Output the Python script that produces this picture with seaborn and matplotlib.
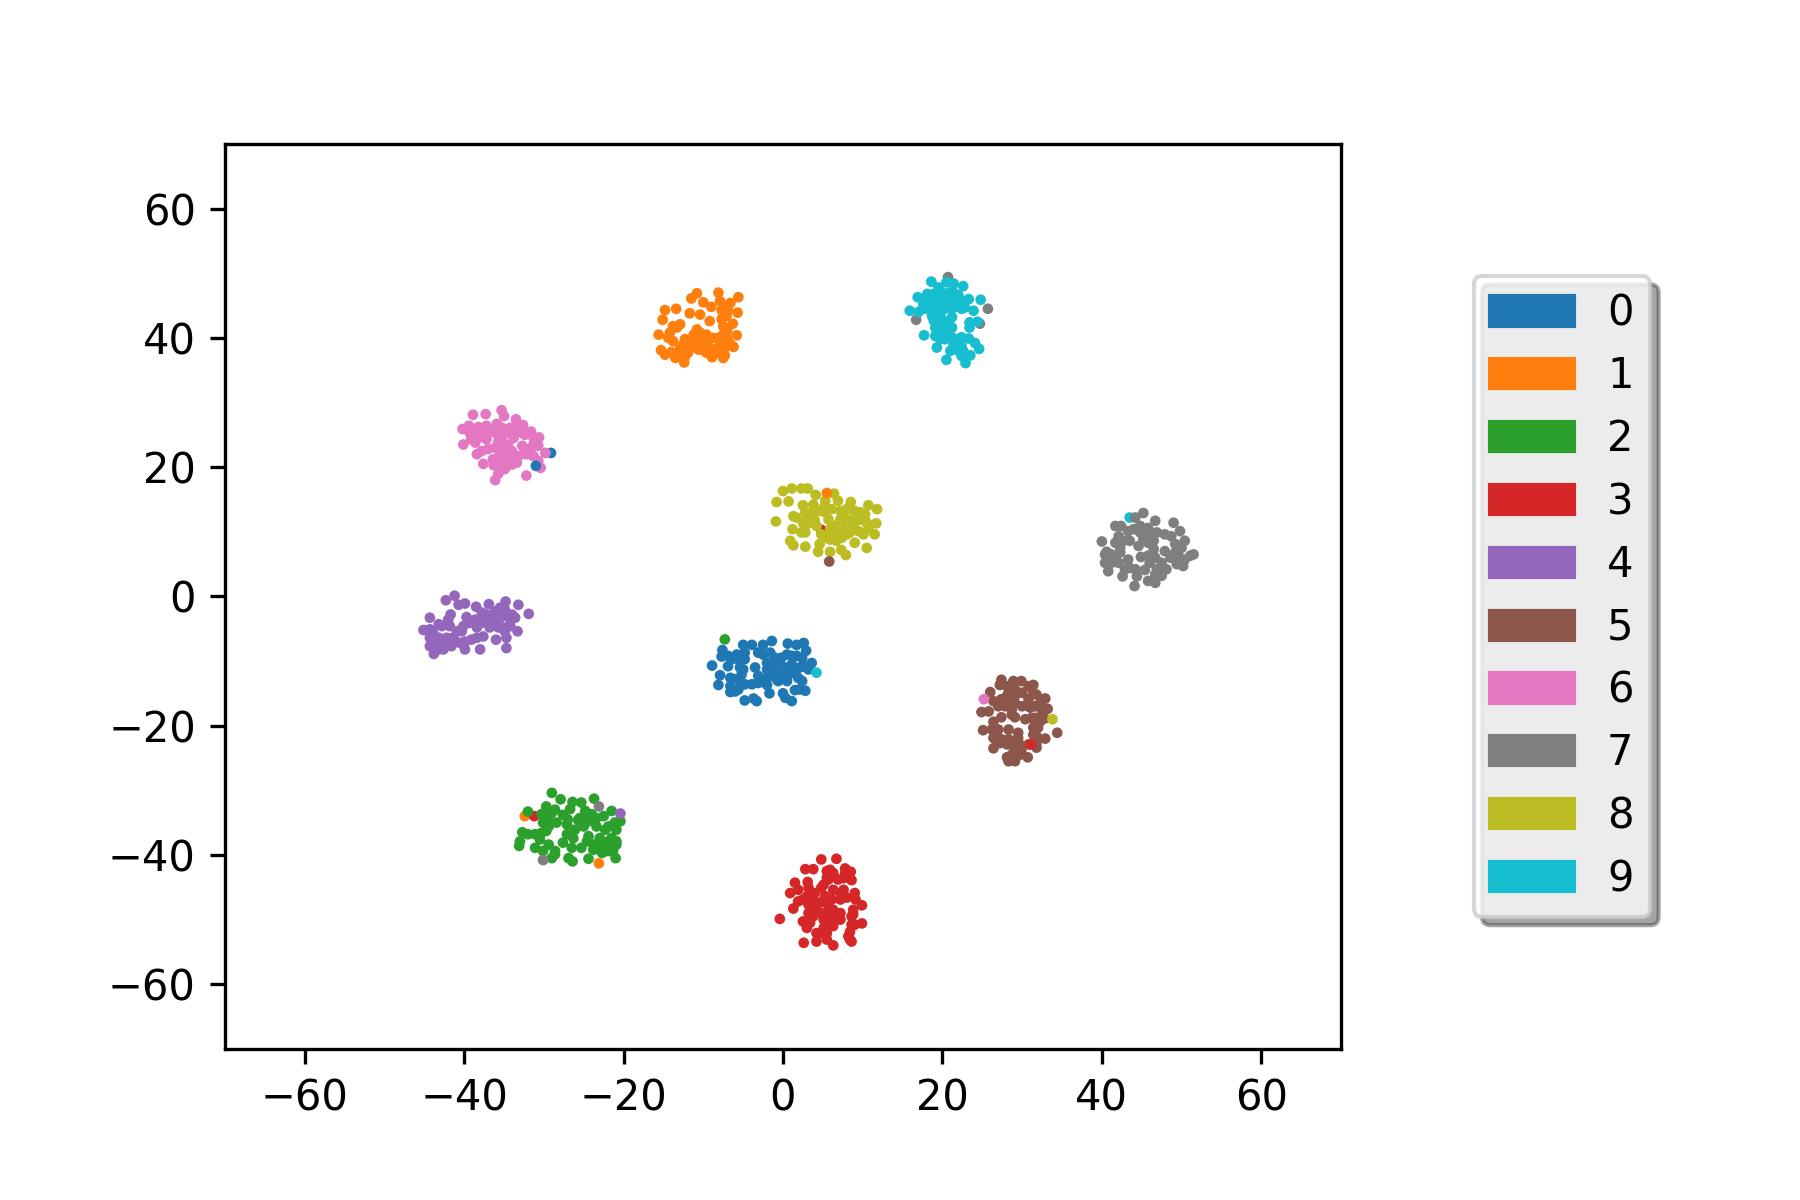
import numpy as np
import pandas as pd
import matplotlib
matplotlib.use("Agg")
import matplotlib.pyplot as plt
from matplotlib.patches import Patch
import seaborn as sns

labels = [str(i) for i in range(10)]
ticks = [-60, -40, -20, 0, 20, 40, 60]

# cluster of each digit
x0 = [-7.6,-5.0,-3.9,-2.5,-1.4,0.6,1.7,2.6,2.9,-8.9,-7.7,-6.4,-5.4,-3.1,-1.6,0.5,1.7,3.6,-6.9,-5.0,-3.5,-2.0,-0.4,1.1,3.2,-7.9,-6.6,-5.2,-3.1,-1.4,0.0,2.1,-8.1,-6.6,-5.6,-3.9,-2.0,0.5,2.4,-6.6,-1.7,1.5,2.8,0.0,0.3,1.1,-4.8,-3.3,-3.7,-0.6,
      -6.9,-5.8,-4.8,-4.8,-2.5,-1.0,-0.2,1.1,2.4,-2.0,-1.0,0.5,1.5,2.6,-0.4,0.7,1.9,-2.0,-5.4,-6.2,-4.8,-3.1,-6.0,2.1,-0.8,-5.4]
y0 = [-8.3,-7.5,-7.5,-7.5,-6.9,-7.3,-7.5,-7.2,-8.4,-10.7,-9.3,-9.7,-10.0,-8.7,-8.7,-9.0,-9.2,-10.3,-10.8,-11.3,-11.0,-10.3,-10.3,-10.5,-11.3,-12.2,-12.6,-12.1,-12.3,-11.6,-11.8,-11.0,-13.7,-13.9,-14.4,-13.6,-13.7,-13.1,-13.1,-14.8,-15.0,-14.5,-14.6,-15.0,-15.7,-16.2,-16.1,-16.2,-15.8,-13.1,
      -9.2,-9.0,-8.7,-9.7,-9.0,-9.5,-9.5,-9.2,-9.5,-11.3,-10.8,-11.0,-11.6,-10.8,-12.3,-12.1,-12.6,-12.6,-13.1,-12.8,-13.6,-13.4,-14.7,-14.4,-12.8,-11.0]

x1 = [-10.8,-11.5,-8.1,-5.6,-10.0,-7.9,-6.6,-14.8,-13.4,-9.0,-11.7,-10.4,-7.7,-5.7,-6.9,-15.1,-9.2,-6.3,-12.9,-13.8,-7.5,-15.6,-5.8,-10.4,-11.2,-14.4,-13.8,-12.3,-8.7,-7.5,-10.6,-7.9,-6.2,-15.3,-14.8,-12.5,-13.5,-11.7,-10.2,-8.9,-7.3,-12.3,-12.4,-8.5,-7.5,-11.0,-13.1,-9.6,
      -10.0,-9.4,-11.2,-11.9,-12.9,-14.0,-9.6,-8.1,-7.0,-7.3,-6.6,-8.1,-7.0,-7.7,-7.1,-7.3,-14.2,-13.3,-12.5,-11.7,-10.6,-8.9,-10.8,-9.6]
y1 = [46.9,46.1,47.0,46.3,45.5,45.7,45.4,44.3,44.5,44.8,43.8,43.6,44.3,43.9,44.2,42.8,42.6,42.2,42.1,41.8,41.8,40.5,40.4,40.8,40.5,40.0,39.5,39.8,40.0,40.5,39.5,39.0,38.6,38.1,37.4,38.2,36.9,38.5,38.2,37.0,37.3,37.1,36.2,38.2,36.9,39.0,37.7,39.0,
      40.0,39.5,39.8,37.7,38.5,37.8,37.7,40.0,39.8,38.5,39.0,37.7,41.1,42.9,43.4,44.9,40.8,41.6,39.0,39.5,38.2,38.2,41.3,40.5]

x2 = [-29.0,-27.9,-23.7,-26.4,-25.3,-32.0,-29.7,-28.6,-30.3,-26.7,-27.6,-24.8,-21.5,-24.0,-29.4,-28.4,-25.7,-24.4,-22.5,-20.4,-27.1,-26.1,-23.4,-22.3,-20.9,-32.7,-29.7,-31.1,-27.1,-24.4,-20.9,-33.0,-33.1,-30.5,-27.6,-24.6,-23.0,-21.9,-31.1,-26.5,-25.3,-23.8,-22.5,-20.9,-30.1,-28.6,-22.7,-21.3,-29.0,-26.9,-26.4,-24.4,-21.0,-22.1,
      -29.7,-29.4,-30.3,-32.0,-25.5,-24.6,-23.4,-25.0,-27.0,-26.3,-22.3,-21.5,-21.7,-23.8,-23.2,-29.4,-29.0,-21.1,-21.9,-30.1,-28.6]
y2 = [-30.4,-31.4,-31.3,-31.8,-31.9,-33.3,-32.5,-33.0,-33.7,-32.9,-33.8,-33.2,-33.2,-33.7,-34.8,-35.0,-34.6,-34.8,-34.0,-34.8,-35.3,-36.1,-35.6,-36.1,-36.1,-36.5,-36.3,-36.8,-36.8,-37.1,-37.9,-37.9,-38.6,-37.6,-38.1,-37.9,-37.4,-37.9,-38.9,-38.9,-38.9,-38.4,-38.9,-38.4,-39.4,-39.4,-39.7,-39.3,-40.5,-40.5,-41.0,-40.6,-40.5,-39.4,
      -33.7,-35.6,-36.6,-36.8,-34.3,-34.3,-34.3,-35.6,-34.5,-37.4,-38.6,-37.4,-39.4,-39.2,-38.9,-38.4,-33.5,-35.0,-35.6,-35.0,-39.9]

x3 = [4.8,6.7,2.8,3.8,7.8,8.5,5.5,6.3,8.6,1.5,3.1,5.7,7.6,0.9,1.9,3.2,5.1,7.6,9.0,6.3,9.1,1.3,1.9,3.6,5.3,7.2,9.9,8.8,-0.4,4.0,5.7,7.2,8.8,2.5,3.8,5.7,7.2,9.9,8.6,3.0,5.1,6.3,8.4,4.6,8.6,2.6,4.2,5.5,6.3,8.2,4.6,3.2,
      5.9,5.5,4.8,4.0,3.0,4.4,6.1,7.2,6.3,4.8,3.2,3.4,6.3,5.1,8.6,9.0,8.0,7.8,6.9,4.2,5.5,2.5,8.4,5.7]
y3 = [-40.7,-40.6,-42.2,-42.2,-42.1,-42.6,-42.5,-42.8,-43.9,-44.3,-44.2,-43.8,-43.6,-45.9,-45.4,-45.1,-44.6,-45.4,-45.9,-45.4,-46.9,-48.3,-47.2,-46.6,-46.4,-46.9,-47.8,-48.5,-49.9,-48.2,-47.9,-49.0,-49.2,-50.3,-49.5,-50.0,-50.0,-50.6,-50.8,-51.3,-51.3,-51.0,-51.9,-52.1,-53.4,-53.6,-53.4,-53.1,-54.0,-52.6,-47.4,-47.7,
      -42.3,-43.5,-45.1,-45.9,-46.4,-47.4,-46.9,-45.9,-48.5,-49.0,-49.0,-50.5,-50.0,-50.0,-49.5,-50.8,-46.6,-42.8,-43.8,-52.1,-52.1,-46.9,-53.1,-49.0]

x4 = [-42.3,-41.2,-40.7,-39.9,-38.5,-36.9,-34.8,-33.2,-31.9,-44.3,-41.7,-39.7,-37.8,-36.1,-34.9,-33.6,-45.1,-43.2,-41.8,-39.3,-36.8,-35.5,-33.3,-43.9,-42.2,-40.3,-38.4,-36.8,-35.1,-44.3,-42.8,-41.2,-39.1,-37.6,-36.0,-34.7,-43.8,-42.6,-41.6,-39.9,-38.0,-34.7,-43.2,-40.5,-44.3,-34.2,
      -37.2,-35.7,-34.7,-36.3,-34.2,-35.7,-37.8,-38.6,-40.1,-40.9,-41.4,-39.9,-42.0,-43.5,-43.2,-44.3,-43.7,-38.4,-34.9,-34.0,-42.0,-42.8,-35.5]
y4 = [-0.6,0.1,-1.3,-1.1,-1.6,-1.2,-0.8,-1.3,-2.7,-3.3,-2.8,-3.2,-2.5,-2.3,-2.0,-3.3,-5.2,-4.3,-4.6,-4.1,-3.6,-3.3,-5.4,-5.6,-6.4,-5.4,-4.8,-4.8,-4.8,-7.7,-7.2,-6.7,-6.7,-6.2,-6.7,-6.4,-8.9,-8.2,-7.7,-8.2,-8.2,-8.0,-6.4,-7.2,-6.4,-3.8,
      -2.8,-2.5,-3.0,-3.6,-4.6,-4.8,-4.1,-3.6,-4.6,-5.4,-6.4,-7.0,-7.4,-7.4,-8.2,-5.1,-6.7,-6.4,-5.4,-2.8,-3.6,-4.6,-1.75]

x5 = [27.4,28.9,29.9,27.2,31.4,30.8,26.0,28.3,31.8,32.9,26.4,27.4,29.1,30.8,24.9,25.8,27.9,29.1,31.6,33.2,28.7,30.4,27.4,26.4,29.1,31.6,32.8,34.4,25.1,26.2,28.3,29.5,32.0,26.4,27.4,29.5,31.8,32.9,26.4,28.1,29.7,31.8,28.1,28.3,29.1,29.7,30.7,31.2,27.2,
      28.1,28.1,29.1,30.0,31.4,27.0,30.0,31.0,32.3,28.3,28.7,32.5,31.4,32.3,31.4,27.0,26.8,28.3,28.9,30.8,29.9,28.7,29.1,31.8]
y5 = [-12.9,-13.1,-13.1,-13.7,-13.7,-13.9,-14.8,-14.9,-15.2,-15.8,-16.2,-15.9,-15.4,-15.9,-17.9,-17.8,-17.0,-16.5,-17.0,-17.4,-17.5,-19.0,-18.7,-19.4,-18.7,-18.8,-18.9,-21.1,-20.7,-20.6,-20.6,-21.1,-20.3,-21.9,-22.1,-21.9,-21.6,-22.0,-23.5,-22.9,-22.9,-23.4,-24.9,-25.5,-25.5,-24.5,-24.9,-18.8,-22.7,
      -13.9,-15.4,-14.4,-14.9,-14.9,-17.0,-17.0,-17.2,-16.5,-16.2,-18.3,-17.8,-20.3,-19.3,-21.4,-20.6,-21.6,-22.1,-23.2,-22.9,-23.9,-24.5,-22.4,-22.7]

x6 = [-38.9,-37.3,-35.3,-35.0,-33.5,-35.9,-39.4,-40.2,-38.2,-37.2,-32.6,-34.2,-31.6,-39.3,-38.2,-36.1,-33.4,-30.6,-32.4,-40.1,-38.6,-37.2,-35.3,-33.8,-31.3,-30.9,-32.7,-38.4,-37.0,-35.1,-34.0,-29.8,-32.2,-31.3,-37.6,-36.4,-35.1,-34.5,-33.4,-36.3,-34.9,-35.7,-32.2,-36.1,-30.4,-30.7,
      -37.4,-38.4,-36.6,-35.3,-33.4,-34.7,-35.7,-36.1,-37.8,-39.1,-34.5,-34.7,-35.7,-33.8,-35.5,-34.0,-31.7,-30.7,-31.3,-33.2,-32.4,-37.0]
y6 = [28.1,28.2,28.8,27.9,27.4,26.7,26.4,25.9,26.2,26.4,26.5,26.1,25.5,25.3,24.6,25.3,25.3,24.6,25.0,23.5,23.8,24.3,24.6,24.5,23.5,23.8,23.3,22.0,22.8,22.8,22.5,22.2,22.0,21.7,20.5,21.2,21.5,20.7,20.7,20.3,19.7,19.0,18.7,18.0,19.9,21.0,
      25.6,25.8,25.6,26.1,26.4,25.3,24.0,23.0,22.5,24.3,23.5,21.7,21.5,21.5,20.4,20.4,22.8,23.3,24.6,21.7,22.8,25.3]

x7 = [44.2,45.2,49.0,41.7,42.4,46.7,40.0,49.8,44.0,42.1,46.1,47.9,41.7,43.5,45.2,48.7,50.4,40.6,42.3,46.5,47.9,49.2,51.5,41.4,40.4,43.3,44.9,46.7,48.6,50.4,40.8,42.1,43.5,45.4,46.9,48.1,50.2,42.6,44.4,45.8,46.7,44.1,47.5,49.2,
      43.3,44.8,45.8,44.8,46.9,46.5,42.7,41.2,41.2,42.9,45.8,46.0,47.5,49.6,50.0,49.0,51.1,49.4,44.6,45.8,44.2,46.7,42.3,40.4]
y7 = [12.2,12.9,11.4,10.9,10.9,11.7,8.5,10.1,10.4,9.3,9.6,9.6,8.3,8.6,8.8,9.3,8.6,6.9,6.8,7.3,7.0,8.1,6.5,6.0,5.2,5.7,6.1,6.0,6.0,5.7,3.9,5.2,4.4,4.1,4.2,4.2,4.7,3.1,3.1,2.4,2.1,1.6,3.2,6.8,
      10.1,10.9,10.6,9.9,9.9,8.6,8.6,6.5,5.2,4.2,6.3,5.2,5.2,6.3,7.5,6.3,6.3,5.0,7.8,8.3,4.2,3.4,7.5,6.5]

x8 = [0.0,1.1,2.3,3.1,-0.8,0.7,4.1,6.4,5.3,2.5,6.9,8.5,-0.9,1.3,3.8,6.1,7.6,10.7,11.8,9.0,2.8,4.4,10.3,2.5,4.0,5.7,7.2,9.2,11.7,1.2,2.8,5.9,7.8,9.5,11.5,10.1,0.9,1.3,2.8,4.8,5.9,7.4,9.0,4.6,4.4,5.9,7.3,7.9,10.5,8.4,4.2,
      5.1,3.6,7.2,8.0,9.7,10.5,8.2,6.5,8.0,6.7,8.8,10.7,3.0,1.7,5.3,2.3,9.7,6.7,3.2,5.5]
y8 = [16.3,16.7,16.7,16.7,14.6,14.7,15.7,15.9,14.8,14.1,14.8,14.6,11.6,12.4,14.2,13.5,13.2,14.1,13.5,13.2,13.0,13.2,12.7,11.4,11.7,11.9,11.9,11.7,11.3,10.4,9.9,10.4,10.6,10.1,9.6,9.6,8.6,7.9,7.7,9.6,8.8,9.1,8.3,8.1,6.9,6.9,7.2,6.4,7.5,9.9,10.9,
      13.7,13.0,13.2,13.5,11.9,11.4,11.9,10.9,9.6,9.9,10.6,10.4,11.2,12.2,13.0,9.9,13.0,8.6,12.4,9.1]

x9 = [18.6,20.5,21.4,22.6,19.5,16.9,18.1,20.8,19.7,22.0,23.3,24.8,15.9,17.6,18.9,20.3,22.2,17.0,18.5,20.3,22.4,23.9,18.9,19.9,21.2,23.4,24.4,19.1,21.2,23.4,17.7,19.1,21.2,22.0,23.3,19.3,20.3,24.1,21.0,22.4,24.6,23.5,22.4,20.5,22.9,17.6,21.4,19.7,
      18.9,19.7,21.4,18.9,19.7,21.2,21.6,17.6,18.2,19.3,20.8,20.5,19.7,19.7,21.4,22.4,22.0,22.6,17.8,21.0,21.8,22.8,20.1,18.7,22.4]
y9 = [48.7,48.6,48.4,48.0,47.8,46.3,46.8,47.0,46.5,46.6,46.0,45.9,44.2,45.2,45.7,45.7,45.5,44.0,44.2,44.5,44.5,44.2,42.7,43.0,43.2,42.4,42.5,41.6,41.6,41.6,40.4,40.3,40.1,39.8,39.9,38.5,39.8,39.2,38.0,38.7,38.3,37.3,37.2,36.6,36.1,44.5,45.5,44.5,
      46.8,47.3,47.0,45.0,45.5,44.5,46.3,46.0,45.5,43.4,42.4,41.1,41.1,39.8,39.0,40.1,38.0,38.0,45.0,46.0,45.0,44.7,42.1,43.4,45.8]

# misplaced points, the ones lying under the clusters
under_x = [20.7, 25.7, 16.7, 24.7, -29.1, 4.8, 43.5, -32.4, -31.2]
under_y = [49.4, 44.5, 42.8, 42.2, 22.2, 10.3, 12.2, -34.0, -34.0]
under_label = ["7", "7", "7", "7", "0", "3", "9", "1", "3"]

# misplaced points on top
over_x = [-31.0, 5.5, 5.8, -7.3, 4.2, 25.2, 33.8, 31.1, -23.1, -30.1, -20.4, -23.1]
over_y = [20.2, 16.0, 5.4, -6.65, -11.8, -15.9, -19.0, -22.9, -32.5, -40.8, -33.6, -41.3]
over_label = ["0", "1", "5", "2", "9", "6", "8", "3", "7", "7", "4", "1"]

clusters = [(x0, y0), (x1, y1), (x2, y2), (x3, y3), (x4, y4),
            (x5, y5), (x6, y6), (x7, y7), (x8, y8), (x9, y9)]

frames = [pd.DataFrame({"x": under_x, "y": under_y, "label": under_label})]
for name, (xs, ys) in zip(labels, clusters):
    frames.append(pd.DataFrame({"x": xs, "y": ys, "label": name}))
frames.append(pd.DataFrame({"x": over_x, "y": over_y, "label": over_label}))
df = pd.concat(frames, ignore_index=True)

palette = sns.color_palette("tab10", 10)

fig, ax = plt.subplots(figsize=(6, 4), dpi=300)
fig.subplots_adjust(left=0.125, right=0.745, top=0.88, bottom=0.126)

sns.scatterplot(data=df, x="x", y="y", hue="label", hue_order=labels,
                palette=palette, s=6.6, linewidth=0, legend=False, ax=ax)

ax.set_xlim(-70, 70)
ax.set_ylim(-70, 70)
ax.set_xticks(ticks)
ax.set_yticks(ticks)
ax.set_xlabel("")
ax.set_ylabel("")

handles = [Patch(color=c, label=n) for c, n in zip(palette, labels)]
ax.legend(handles=handles, loc="center", bbox_to_anchor=(1.198, 0.5), shadow=True, framealpha=0.8)

fig.savefig("out.png", dpi=300)
